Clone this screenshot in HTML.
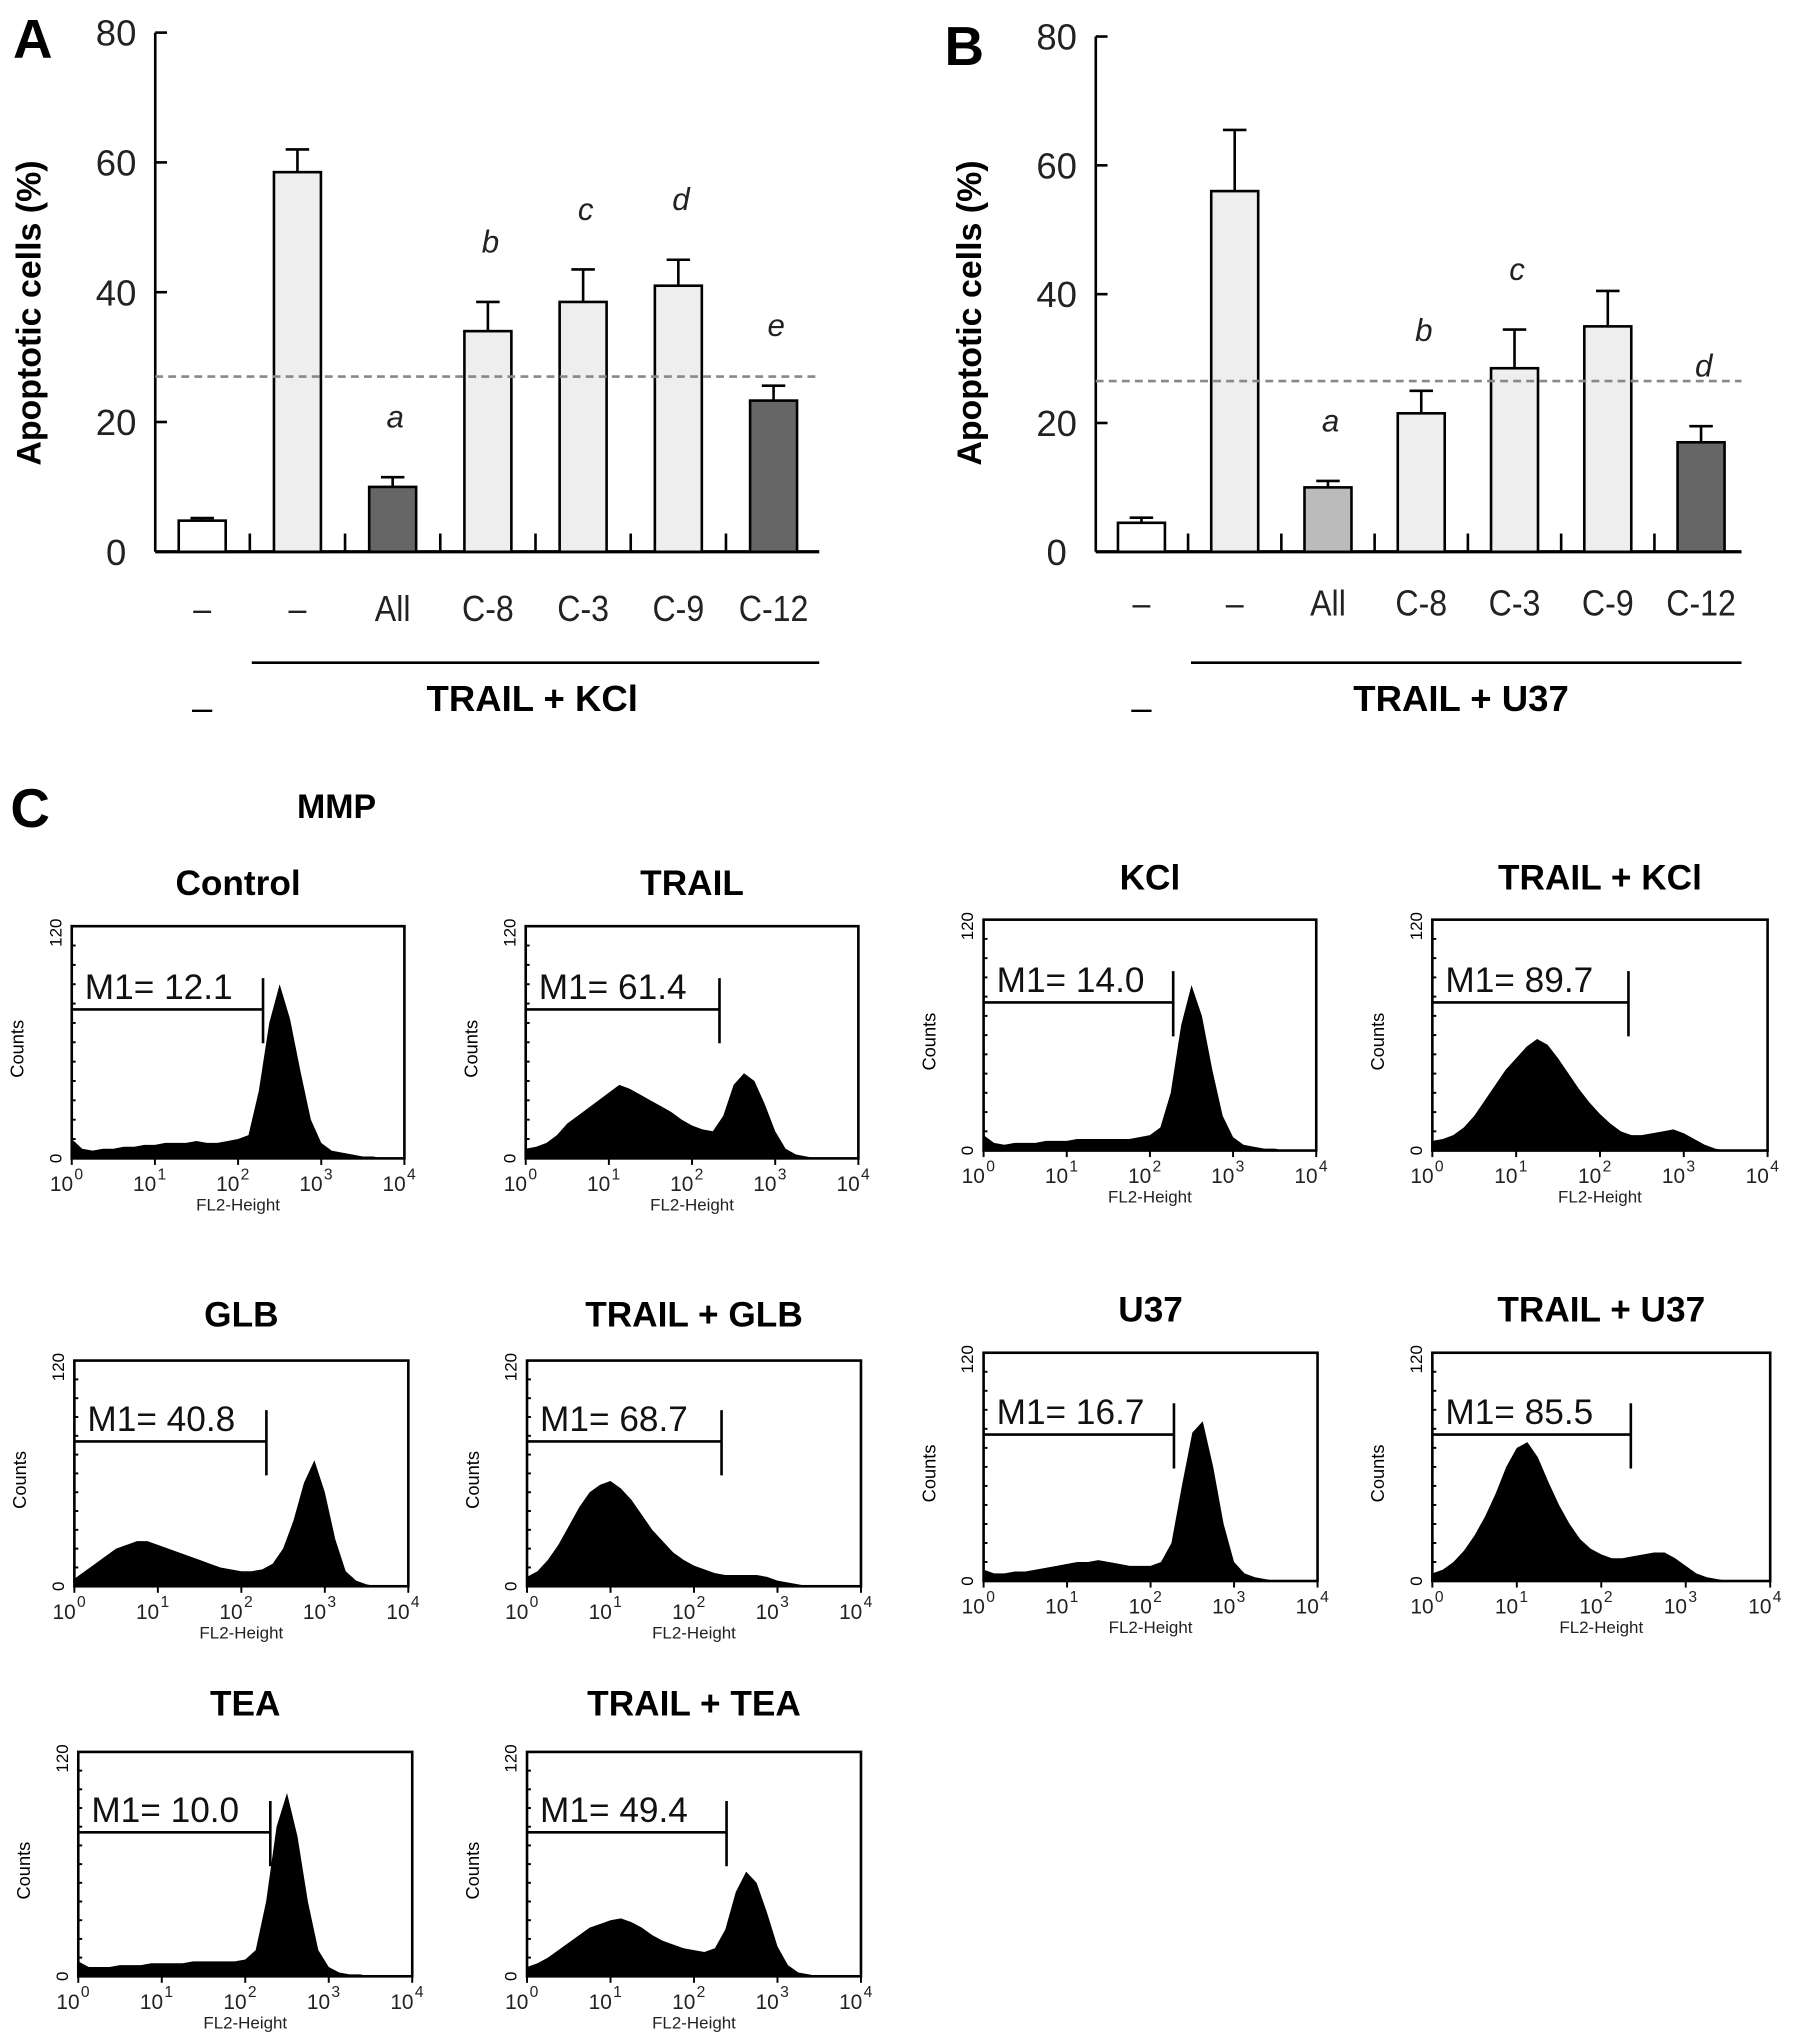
<!DOCTYPE html>
<html><head><meta charset="utf-8"><style>
html,body{margin:0;padding:0;background:#fff;}
svg{display:block;font-family:"Liberation Sans",Arial,sans-serif;}
</style></head><body>
<svg id="fig" width="1795" height="2035" viewBox="0 0 1376 1560" xmlns="http://www.w3.org/2000/svg"></svg>
<script>
// ---- Panel A / B bar data ----
const barCatsA = ["–","–","All","C-8","C-3","C-9","C-12"];
const barValuesA = [4.8, 58.5, 10, 34, 38.5, 41, 23.3];
const barErrorsA = [0.4, 3.5, 1.5, 4.5, 5, 4, 2.3];
const barLettersA = ["", "", "a", "b", "c", "d", "e"];
const barCatsB = ["–","–","All","C-8","C-3","C-9","C-12"];
const barValuesB = [4.5, 56, 10, 21.5, 28.5, 35, 17];
const barErrorsB = [0.8, 9.5, 1, 3.5, 6, 5.5, 2.5];
const barLettersB = ["", "", "a", "b", "c", "", "d"];
const yTicks = [0, 20, 40, 60, 80];
const refLineA = 27;
const refLineB = 26.5;
// ---- Histogram data (counts at log10 FL2 = 0, 0.125, ... 4) ----
const histControl = [10,5,4,5,5,6,6,7,7,8,8,8,9,8,8,9,10,12,35,70,90,72,45,20,8,4,3,2,1,1,0,0,0];
const histTRAIL = [5,6,8,12,18,22,26,30,34,38,36,33,30,27,24,20,17,15,14,22,38,44,40,28,14,5,2,1,0,0,0,0,0];
const histKCl = [8,4,3,4,4,4,5,5,5,6,6,6,6,6,6,7,8,12,30,65,86,70,42,18,7,3,2,1,1,0,0,0,0];
const histTRAILKCl = [5,6,8,12,18,26,34,42,48,54,58,55,48,40,32,25,19,14,10,8,8,9,10,11,9,6,3,1,0,0,0,0,0];
const histGLB = [4,8,12,16,20,22,24,24,22,20,18,16,14,12,10,9,8,8,9,12,20,35,55,67,50,25,8,3,1,0,0,0,0];
const histTRAILGLB = [5,8,14,22,32,42,50,54,56,52,46,38,30,24,18,14,11,9,7,6,6,6,6,5,3,2,1,0,0,0,0,0,0];
const histU37 = [6,4,4,5,5,6,7,8,9,10,10,11,10,9,8,8,8,10,20,50,78,84,60,30,10,4,2,1,0,0,0,0,0];
const histTRAILU37 = [4,6,10,16,24,34,46,60,70,73,65,52,40,30,22,17,14,12,12,13,14,15,15,12,8,4,2,1,0,0,0,0,0];
const histTEA = [8,5,5,5,6,6,6,7,7,7,7,8,8,8,8,8,9,14,40,80,98,75,40,14,5,2,1,1,0,0,0,0,0];
const histTRAILTEA = [5,7,10,14,18,22,26,28,30,31,29,26,22,19,17,15,14,13,15,25,45,56,50,34,16,6,2,1,0,0,0,0,0];
const histTitles = ["Control","TRAIL","KCl","TRAIL  + KCl","GLB","TRAIL  + GLB","U37","TRAIL  + U37","TEA","TRAIL  + TEA"];
const m1Values = ["12.1","61.4","14.0","89.7","40.8","68.7","16.7","85.5","10.0","49.4"];
const m1Gates = [2.3, 2.33, 2.28, 2.34, 2.3, 2.33, 2.28, 2.35, 2.3, 2.39];
const xDecades = ["0","1","2","3","4"];

const NS="http://www.w3.org/2000/svg";
const svg=document.getElementById('fig');
function mk(tag,attrs,parent){const e=document.createElementNS(NS,tag);for(const k in attrs)e.setAttribute(k,attrs[k]);(parent||svg).appendChild(e);return e;}
function txt(s,attrs,parent){const e=mk('text',attrs,parent);e.textContent=s;return e;}

function barPanel(P,cats,vals,errs,letters,colors,refVal,groupLabel){
  const g=mk('g',{});
  
  
  const y=v=>P.y0-(v/80)*(P.y0-P.y80);
  const x=i=>P.x0+P.first+i*P.step;
  const lab=txt(P.letter,{x:P.lx,y:P.ly,'font-size':42,'font-weight':'bold'},g);
  
  
  const yt=txt('Apoptotic cells (%)',{x:0,y:0,'font-size':26,'font-weight':'bold','text-anchor':'middle',transform:`translate(${P.x0-88},240) rotate(-90)`},g);
  
  
  mk('line',{x1:P.x0,y1:y(80),x2:P.x0,y2:P.y0,stroke:'#000','stroke-width':2},g);
  mk('line',{x1:P.x0,y1:P.y0,x2:P.xEnd,y2:P.y0,stroke:'#000','stroke-width':2.5},g);
  yTicks.forEach(t=>{
    mk('line',{x1:P.x0,y1:y(t),x2:P.x0+9,y2:y(t),stroke:'#000','stroke-width':2},g);
    const tl=txt(String(t),{x:P.x0-30,y:y(t)+10,'font-size':28,'text-anchor':'middle',fill:'#222'},g);
    
    
  });
  for(let i=0;i<cats.length-1;i++){
    const tx=(x(i)+x(i+1))/2;
    mk('line',{x1:tx,y1:P.y0,x2:tx,y2:P.y0-14,stroke:'#000','stroke-width':2},g);
  }
  vals.forEach((v,i)=>{
    const bx=x(i)-P.bw/2;
    const r=mk('rect',{x:bx,y:y(v),width:P.bw,height:P.y0-y(v),fill:colors[i],stroke:'#000','stroke-width':2},g);
    
    
    const top=y(v+errs[i]);
    mk('line',{x1:x(i),y1:y(v),x2:x(i),y2:top,stroke:'#000','stroke-width':2},g);
    mk('line',{x1:x(i)-9,y1:top,x2:x(i)+9,y2:top,stroke:'#000','stroke-width':2},g);
    if(letters[i]){
      const lt=txt(letters[i],{x:x(i)+2,y:top-38,'font-size':24,'font-style':'italic','text-anchor':'middle',fill:'#222'},g);
      
      
    }
    const cl=txt(cats[i],{x:0,y:0,'font-size':28,'text-anchor':'middle',fill:'#222',transform:`translate(${x(i)},${P.labY}) scale(0.88,1)`},g);
    
    
  });
  const rl=mk('line',{x1:P.x0,y1:y(refVal),x2:P.xEnd,y2:y(refVal),stroke:'#888','stroke-width':2,'stroke-dasharray':'6,4'},g);
  
  
  mk('line',{x1:P.brX,y1:508,x2:P.xEnd,y2:508,stroke:'#000','stroke-width':2},g);
  const gl=txt(groupLabel,{x:P.gx,y:545,'font-size':28,'font-weight':'bold','text-anchor':'middle'},g);
  
  
  txt('–',{x:x(0),y:552,'font-size':28,'text-anchor':'middle'},g);
}
barPanel({name:'panel-a-bar-chart',letter:'A',lx:10,ly:44,x0:119,y0:423,y80:25,xEnd:628,first:36,step:73,bw:36,labY:476,brX:193,gx:408},
  barCatsA,barValuesA,barErrorsA,barLettersA,['#fff','#eee','#666','#eee','#eee','#eee','#666'],refLineA,'TRAIL + KCl');
barPanel({name:'panel-b-bar-chart',letter:'B',lx:724,ly:50,x0:840,y0:423,y80:28,xEnd:1335,first:35,step:71.5,bw:36,labY:472,brX:913,gx:1120},
  barCatsB,barValuesB,barErrorsB,barLettersB,['#fff','#eee','#bbb','#eee','#eee','#eee','#666'],refLineB,'TRAIL + U37');

const cl=txt('C',{x:8,y:634,'font-size':42,'font-weight':'bold'});


const mmp=txt('MMP',{x:258,y:627,'font-size':26,'font-weight':'bold','text-anchor':'middle'});



const hists=[histControl,histTRAIL,histKCl,histTRAILKCl,histGLB,histTRAILGLB,histU37,histTRAILU37,histTEA,histTRAILTEA];
const boxes=[[55,710,255,178,686],[403,710,255,178,686],[754,705,255,177,682],[1098,705,257,177,682],
             [57,1043,256,173,1017],[404,1043,256,173,1017],[754,1037,256,175,1013],[1098,1037,259,175,1013],
             [60,1343,256,172,1315],[404,1343,256,172,1315]];
hists.forEach((h,k)=>{
  const [bx,by,bw,bh,ty]=boxes[k];
  const g=mk('g',{});
  
  
  const X=d=>bx+d/4*bw, Y=c=>by+bh-(c/120)*bh;
  const t=txt(histTitles[k],{x:bx+bw/2,y:ty,'font-size':27,'font-weight':'bold','text-anchor':'middle'},g);
  
  
  let d=`M${X(0)},${Y(0)}`;
  h.forEach((c,i)=>{d+=` L${X(i/8)},${Y(c)}`;});
  d+=` L${X(4)},${Y(0)} Z`;
  const p=mk('path',{d:d,fill:'#000'},g);
  
  
  mk('rect',{x:bx,y:by,width:bw,height:bh,fill:'none',stroke:'#000','stroke-width':2},g);
  for(let j=1;j<12;j++) mk('line',{x1:bx,y1:by+bh*j/12,x2:bx+3,y2:by+bh*j/12,stroke:'#000','stroke-width':1.5},g);
  for(let j=0;j<=4;j++){
    mk('line',{x1:X(j),y1:by+bh,x2:X(j),y2:by+bh+5,stroke:'#000','stroke-width':1.5},g);
    const tl=txt('10',{x:X(j)+1,y:by+bh+25,'font-size':16,'text-anchor':'end',fill:'#222'},g);
    
    
    txt(xDecades[j],{x:X(j)+2,y:by+bh+16,'font-size':12,fill:'#222'},g);
  }
  txt('FL2-Height',{x:bx+bw/2,y:by+bh+40,'font-size':13,'text-anchor':'middle',fill:'#222'},g);
  txt('120',{x:0,y:0,'font-size':13,'text-anchor':'middle',transform:`translate(${bx-8},${by+5}) rotate(-90)`},g);
  txt('0',{x:0,y:0,'font-size':13,'text-anchor':'middle',transform:`translate(${bx-8},${by+bh}) rotate(-90)`},g);
  txt('Counts',{x:0,y:0,'font-size':14,'text-anchor':'middle',transform:`translate(${bx-37},${by+bh/2+5}) rotate(-90)`},g);
  const gx=X(m1Gates[k]), gy=Y(77);
  const ml=mk('line',{x1:bx,y1:gy,x2:gx,y2:gy,stroke:'#000','stroke-width':2},g);
  
  
  mk('line',{x1:gx,y1:gy-24,x2:gx,y2:gy+26,stroke:'#000','stroke-width':2},g);
  const mt=txt('M1= '+m1Values[k],{x:bx+10,y:gy-8,'font-size':27,fill:'#111'},g);
  
  
});
</script>
</body></html>
